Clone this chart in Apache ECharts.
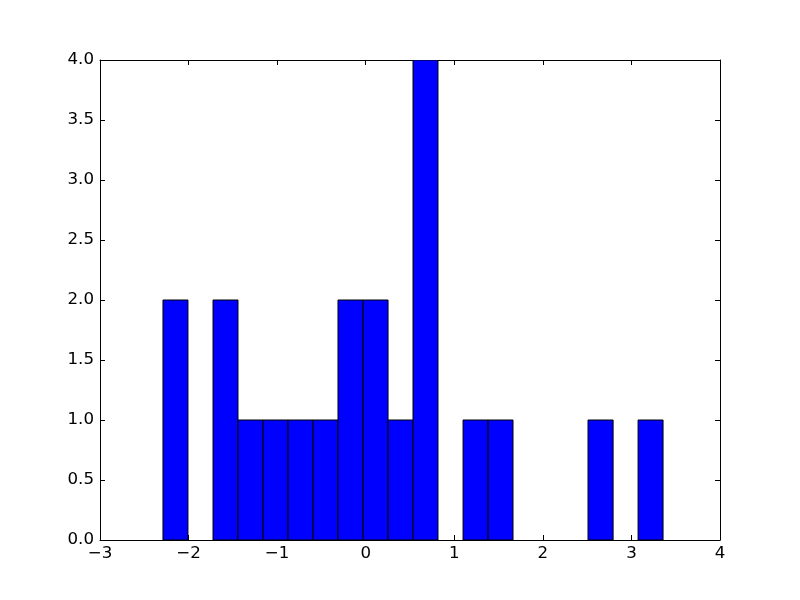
<!DOCTYPE html>
<html>
<head>
<meta charset="utf-8">
<script src="https://cdn.jsdelivr.net/npm/echarts@6/dist/echarts.min.js"></script>
<style>
html, body { margin: 0; padding: 0; background: #fff; }
#chart { width: 800px; height: 600px; }
</style>
</head>
<body>
<div id="chart"></div>
<script>
// Histogram bin edges and counts per bin
var binEdges = [-2.289, -2.007, -1.724, -1.442, -1.160, -0.877, -0.595, -0.313, -0.030, 0.252, 0.534,
                0.816, 1.099, 1.381, 1.663, 1.946, 2.228, 2.510, 2.793, 3.075, 3.357];
var counts = [2, 0, 2, 1, 1, 1, 1, 2, 2, 1, 4, 0, 1, 1, 0, 0, 0, 1, 0, 1];
var xTicks = [-3, -2, -1, 0, 1, 2, 3, 4];
var yTicks = [0.0, 0.5, 1.0, 1.5, 2.0, 2.5, 3.0, 3.5, 4.0];

var data = [];
for (var i = 0; i < counts.length; i++) {
  if (counts[i] > 0) data.push([binEdges[i], binEdges[i + 1], counts[i]]);
}

var font = 'DejaVu Sans';
var fs = 16.67;
var axisCommon = {
  axisLine: { show: true, onZero: false, lineStyle: { color: '#000', width: 1 } },
  axisTick: { show: true, inside: true, length: 5, lineStyle: { color: '#000', width: 1 } },
  splitLine: { show: false }
};

var chart = echarts.init(document.getElementById('chart'), null, { renderer: 'canvas' });
chart.setOption({
  animation: false,
  backgroundColor: '#fff',
  grid: { left: 100, right: 80, top: 60, bottom: 60, containLabel: false },
  xAxis: [
    Object.assign({
      type: 'value', position: 'bottom', min: xTicks[0], max: xTicks[xTicks.length - 1], interval: 1,
      axisLabel: { show: true, color: '#000', fontFamily: font, fontSize: fs, margin: 5,
        formatter: function (v) { return String(v).replace('-', '\u2212'); } }
    }, axisCommon),
    Object.assign({
      type: 'value', position: 'top', min: xTicks[0], max: xTicks[xTicks.length - 1], interval: 1,
      axisLabel: { show: false }
    }, axisCommon)
  ],
  yAxis: [
    Object.assign({
      type: 'value', position: 'left', min: yTicks[0], max: yTicks[yTicks.length - 1], interval: 0.5,
      axisLabel: { show: true, color: '#000', fontFamily: font, fontSize: fs, margin: 6,
        formatter: function (v) { return v.toFixed(1); } }
    }, axisCommon),
    Object.assign({
      type: 'value', position: 'right', min: yTicks[0], max: yTicks[yTicks.length - 1], interval: 0.5,
      axisLabel: { show: false }
    }, axisCommon)
  ],
  series: [{
    type: 'custom',
    xAxisIndex: 0,
    yAxisIndex: 0,
    clip: true,
    data: data,
    renderItem: function (params, api) {
      var p0 = api.coord([api.value(0), api.value(2)]);
      var p1 = api.coord([api.value(1), 0]);
      return {
        type: 'rect',
        shape: { x: p0[0], y: p0[1], width: p1[0] - p0[0], height: p1[1] - p0[1] },
        style: { fill: '#0000ff', stroke: '#000', lineWidth: 1 }
      };
    }
  }]
});
</script>
</body>
</html>
